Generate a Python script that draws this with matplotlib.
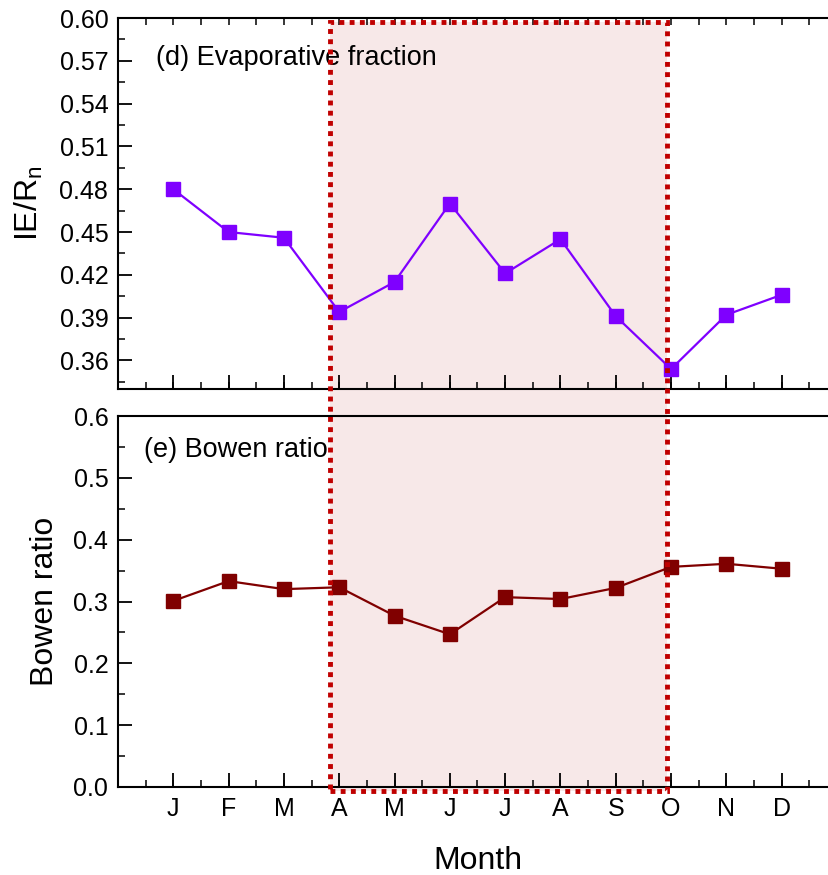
import numpy as np
import matplotlib
matplotlib.use('Agg')
import matplotlib.pyplot as plt
from matplotlib.patches import Rectangle
from matplotlib.ticker import MultipleLocator

plt.rcParams['font.family'] = ['Liberation Sans', 'DejaVu Sans']
plt.rcParams['mathtext.fontset'] = 'custom'
plt.rcParams['mathtext.rm'] = 'Liberation Sans'

### data
months = ['J', 'F', 'M', 'A', 'M', 'J', 'J', 'A', 'S', 'O', 'N', 'D']
month_pos = np.arange(1, 13)
evap_frac = [0.480, 0.450, 0.446, 0.394, 0.415, 0.470, 0.421, 0.445, 0.391, 0.354, 0.392, 0.406]
bowen = [0.301, 0.333, 0.320, 0.323, 0.277, 0.247, 0.307, 0.304, 0.322, 0.356, 0.361, 0.353]

# highlighted season (x in month units)
season_start = 3.83
season_end = 9.93

W, H = 829, 875
fig = plt.figure(figsize=(W/100, H/100), dpi=100)

ax_left = 118/W
ax_w = (837-118)/W
ax1 = fig.add_axes([ax_left, 1-389/H, ax_w, (389-18)/H])
ax2 = fig.add_axes([ax_left, 1-787/H, ax_w, (787-416)/H])

for ax in (ax1, ax2):
    ax.set_facecolor('none')
    ax.set_xlim(0, 13)
    ax.xaxis.set_major_locator(MultipleLocator(1))
    ax.xaxis.set_minor_locator(MultipleLocator(0.5))
    ax.xaxis.remove_overlapping_locs = False
    for s in ax.spines.values():
        s.set_linewidth(1.5)
    ax.tick_params(which='major', direction='in', length=10, width=1.3,
                   labelsize=18, pad=7, right=False, top=False)
    ax.tick_params(which='minor', direction='in', length=5, width=1.1, right=False, top=False)

### top panel: evaporative fraction
ax1.plot(month_pos, evap_frac, '-s', color='#7f00ff', lw=1.6, ms=10,
         mec='#7f00ff', zorder=4)
ax1.set_ylim(0.34, 0.60)
ax1.yaxis.set_major_locator(MultipleLocator(0.03))
ax1.yaxis.set_minor_locator(MultipleLocator(0.015))
ax1.yaxis.set_major_formatter(matplotlib.ticker.FormatStrFormatter('%.2f'))
ax1.tick_params(axis='x', which='major', labelbottom=False)
ax1.tick_params(axis='x', which='minor', top=True)
ax1.set_ylabel(r'IE/R$_\mathregular{n}$', fontsize=23)
ax1.yaxis.set_label_coords((45-118)/719, 0.5)
ax1.text((156-118)/719, 0.892, '(d) Evaporative fraction', transform=ax1.transAxes,
         fontsize=19.5, va='center', ha='left')

### bottom panel: Bowen ratio
ax2.plot(month_pos, bowen, '-s', color='#800000', lw=1.6, ms=10,
         mec='#800000', zorder=4)
ax2.set_ylim(0.0, 0.6)
ax2.yaxis.set_major_locator(MultipleLocator(0.1))
ax2.yaxis.set_minor_locator(MultipleLocator(0.05))
ax2.yaxis.set_major_formatter(matplotlib.ticker.FormatStrFormatter('%.1f'))
ax2.set_xticks(month_pos)
ax2.set_xticklabels(months)
ax2.set_ylabel('Bowen ratio', fontsize=23)
ax2.yaxis.set_label_coords((60-118)/719, 0.5)
ax2.set_xlabel('Month', fontsize=23, va='top')
ax2.xaxis.set_label_coords(0.5, -0.16)
ax2.text((144-118)/719, 0.908, '(e) Bowen ratio', transform=ax2.transAxes,
         fontsize=19.5, va='center', ha='left')

### shaded season box spanning both panels
inv = fig.transFigure.inverted()
x0, y1 = inv.transform(ax1.transData.transform((season_start, 0.597)))
x1, y0 = inv.transform(ax2.transData.transform((season_end, -0.0065)))
fig.add_artist(Rectangle((x0, y0), x1-x0, y1-y0, transform=fig.transFigure,
                         facecolor='#f7e8e8', edgecolor='none', zorder=-1))
fig.add_artist(Rectangle((x0, y0), x1-x0, y1-y0, transform=fig.transFigure,
                         facecolor='none', edgecolor='#c00000', lw=3.5,
                         linestyle=(0, (1, 1.1)), capstyle='butt', zorder=3))

plt.savefig('out.png', dpi=100)
